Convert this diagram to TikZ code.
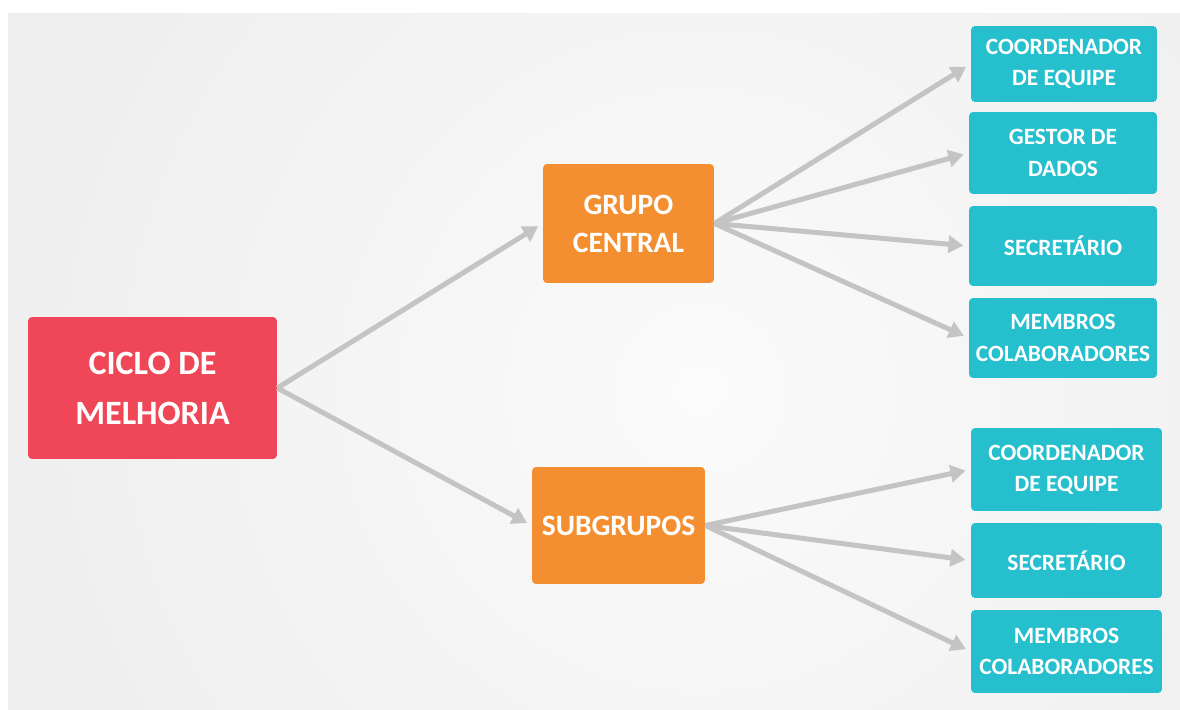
\documentclass[tikz,border=0pt]{standalone}
\usepackage{fontspec}
\setmainfont{Carlito}
\usetikzlibrary{arrows.meta}
\definecolor{cicloRed}{HTML}{EF4757}
\definecolor{grupoOrange}{HTML}{F48F31}
\definecolor{papelTeal}{HTML}{26BFCE}
\definecolor{setaGray}{HTML}{C4C4C4}
\definecolor{fundoOut}{HTML}{EEEEEE}
\definecolor{fundoIn}{HTML}{FBFBFB}
\begin{document}
\begin{tikzpicture}[x=0.02cm, y=-0.02cm,
    caixa/.style={rounded corners=2.3pt, text=white, align=center, inner sep=0pt, font=\bfseries},
    ciclo/.style={caixa, fill=cicloRed, minimum width=4.98cm, minimum height=2.84cm,
      font=\fontsize{19.4}{28.5}\selectfont\bfseries},
    grupo/.style={caixa, fill=grupoOrange, minimum width=3.44cm,
      font=\fontsize{16.8}{21.6}\selectfont\bfseries},
    papel/.style={caixa, fill=papelTeal, font=\fontsize{13.3}{17.8}\selectfont\bfseries},
    seta/.style={draw=setaGray, line width=2.85pt, shorten >=3pt,
      -{Triangle[length=0.3cm, width=0.34cm]}}]
    \useasboundingbox (0,0) rectangle (1180,710);
    \fill[fundoOut] (8,13) rectangle (1180,710);
    \begin{scope}
    \clip (8,13) rectangle (1180,710);
    \shade[inner color=fundoIn, outer color=fundoOut] (700,390) circle (720);
    \end{scope}

    \node[ciclo] (ciclo) at (152.5,388) {CICLO DE\\MELHORIA};
    \node[grupo, minimum width=3.42cm, minimum height=2.38cm] (central) at (628.5,223.5) {GRUPO\\CENTRAL};
    \node[grupo, minimum width=3.46cm, minimum height=2.34cm] (sub) at (618.5,525.5) {SUBGRUPOS};

    \node[papel, minimum width=3.72cm, minimum height=1.52cm] (coordA) at (1064,64) {COORDENADOR\\DE EQUIPE};
    \node[papel, minimum width=3.76cm, minimum height=1.64cm] (gestor) at (1063,153) {GESTOR DE\\DADOS};
    \node[papel, minimum width=3.76cm, minimum height=1.6cm] (secA) at (1063,246) {SECRET\'ARIO};
    \node[papel, minimum width=3.76cm, minimum height=1.6cm] (membA) at (1063,338) {MEMBROS\\COLABORADORES};

    \node[papel, minimum width=3.82cm, minimum height=1.66cm] (coordB) at (1066.5,469.5) {COORDENADOR\\DE EQUIPE};
    \node[papel, minimum width=3.82cm, minimum height=1.5cm] (secB) at (1066.5,560.5) {SECRET\'ARIO};
    \node[papel, minimum width=3.82cm, minimum height=1.66cm] (membB) at (1066.5,651.5) {MEMBROS\\COLABORADORES};

    \draw[seta] (ciclo.east) -- (central.west);
    \draw[seta] (ciclo.east) -- (sub.west);
    \foreach \alvo in {coordA, gestor, secA, membA}
    \draw[seta] (central.east) -- (\alvo.west);
    \foreach \alvo in {coordB, secB, membB}
    \draw[seta] (sub.east) -- (\alvo.west);
  \end{tikzpicture}
\end{document}
